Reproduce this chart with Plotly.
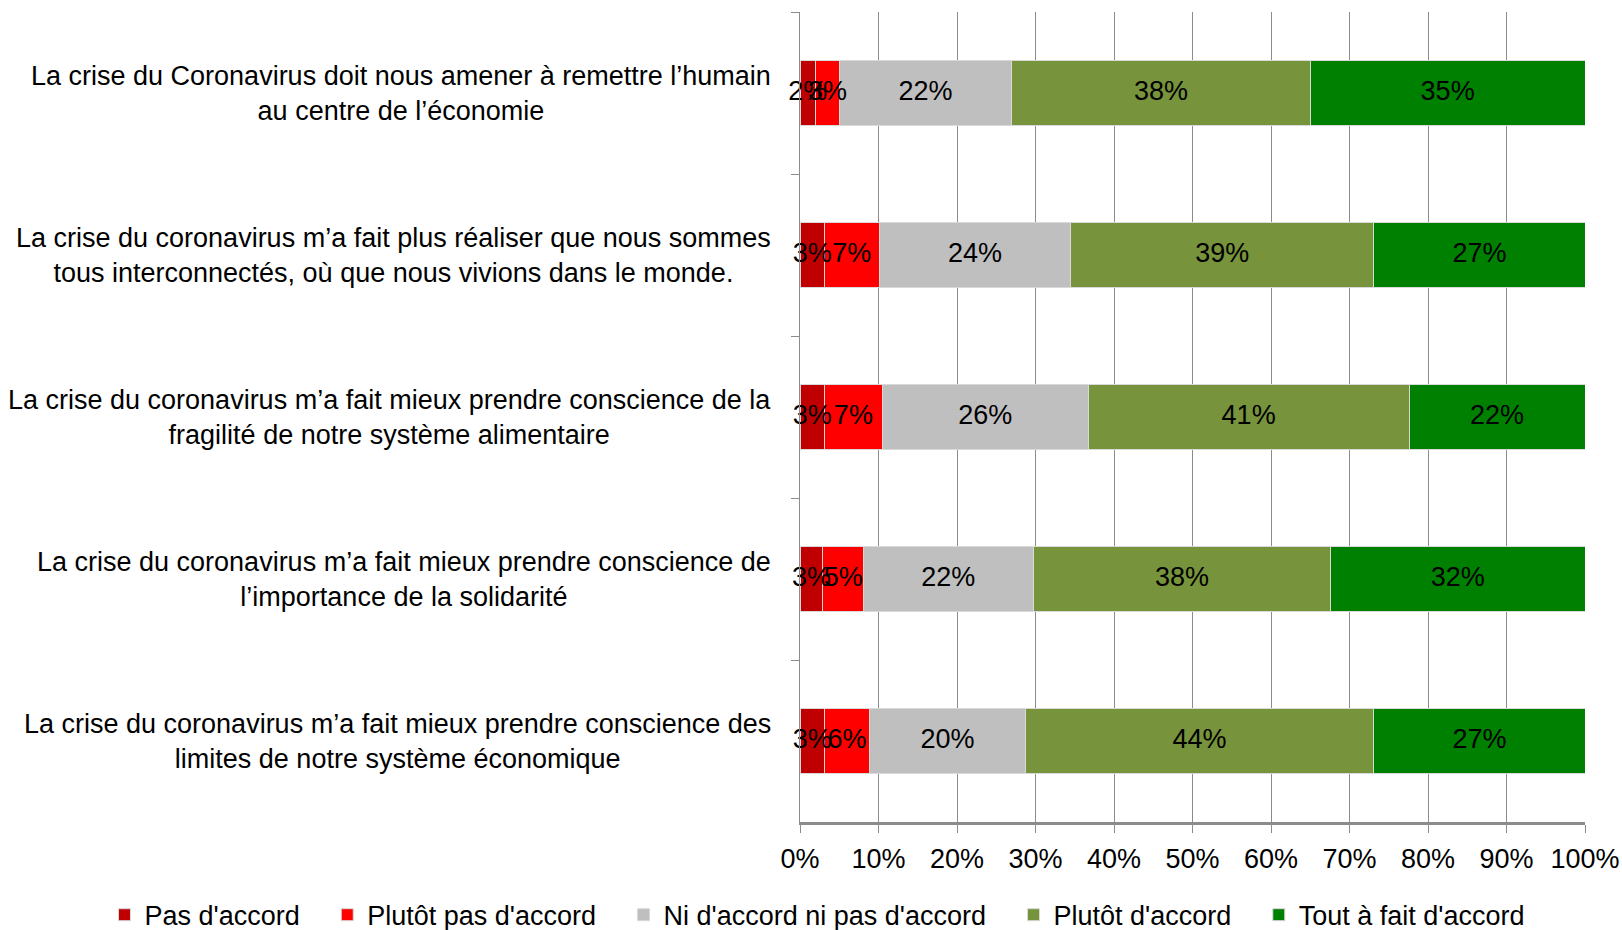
import plotly.graph_objects as go

categories = [
    "La crise du Coronavirus doit nous amener à remettre l’humain<br>au centre de l’économie",
    "La crise du coronavirus m’a fait plus réaliser que nous sommes<br>tous interconnectés, où que nous vivions dans le monde.",
    "La crise du coronavirus m’a fait mieux prendre conscience de la<br>fragilité de notre système alimentaire",
    "La crise du coronavirus m’a fait mieux prendre conscience de<br>l’importance de la solidarité",
    "La crise du coronavirus m’a fait mieux prendre conscience des<br>limites de notre système économique",
]

series_names = ["Pas d'accord", "Plutôt pas d'accord", "Ni d'accord ni pas d'accord",
                "Plutôt d'accord", "Tout à fait d'accord"]
pas_accord = [2.0, 3.1, 3.1, 2.9, 3.1]
plutot_pas = [3.0, 7.0, 7.4, 5.2, 5.8]
ni_ni = [22.0, 24.4, 26.2, 21.6, 19.8]
plutot_accord = [38.0, 38.6, 40.9, 37.9, 44.4]
tout_a_fait = [35.0, 26.9, 22.4, 32.4, 26.9]
colors = ["#C00000", "#FF0000", "#BFBFBF", "#77933C", "#008000"]
x_ticks = [0, 10, 20, 30, 40, 50, 60, 70, 80, 90, 100]
x_tick_labels = ["0%", "10%", "20%", "30%", "40%", "50%", "60%", "70%", "80%", "90%", "100%"]

FONT = "Liberation Sans, Arial, sans-serif"
FS = 27
PAD = "\u00a0\u00a0\u00a0"
all_series = [pas_accord, plutot_pas, ni_ni, plutot_accord, tout_a_fait]

fig = go.Figure()
for i, (name, vals, col) in enumerate(zip(series_names, all_series, colors)):
    fig.add_trace(go.Bar(
        y=categories, x=vals, name=name + (PAD if i < len(series_names) - 1 else ""),
        orientation="h",
        marker=dict(color=col, line=dict(color="#d9d9d9", width=1)),
        hoverinfo="skip",
    ))

# value labels drawn on top of all bars
base = [0.0] * len(categories)
for vals in all_series:
    mids = [b + v / 2 for b, v in zip(base, vals)]
    fig.add_trace(go.Scatter(
        x=mids, y=categories, mode="text",
        text=[f"{int(v + 0.5)}%" for v in vals],
        textposition="middle center", cliponaxis=False, showlegend=False,
        textfont=dict(color="black", size=FS, family=FONT), hoverinfo="skip",
    ))
    base = [b + v for b, v in zip(base, vals)]

for c in categories:
    fig.add_annotation(x=0, xref="paper", xanchor="right", xshift=-27,
                       y=c, yref="y", yanchor="middle", text=c, showarrow=False,
                       align="center", font=dict(size=FS, family=FONT, color="black"))

fig.update_layout(
    barmode="stack", bargap=0.6, width=1622, height=930,
    margin=dict(l=800, r=37, t=12, b=108, autoexpand=False),
    plot_bgcolor="white", paper_bgcolor="white",
    font=dict(family=FONT, size=FS, color="black"),
    legend=dict(orientation="h", x=-0.886, xanchor="left", y=-0.115, yanchor="middle",
                font=dict(size=FS, family=FONT), traceorder="normal",
                itemwidth=30, tracegroupgap=0),
    xaxis=dict(range=[0, 100], tickvals=x_ticks, ticktext=x_tick_labels,
               showgrid=True, gridcolor="#8c8c8c", gridwidth=1.3,
               ticks="outside", ticklen=8, tickcolor="#8c8c8c", tickwidth=1.3,
               showline=True, linecolor="#8c8c8c", linewidth=2.5,
               ticklabelstandoff=3, zeroline=False, ticklabeloverflow="allow",
               tickfont=dict(size=FS, family=FONT)),
    yaxis=dict(categoryorder="array", categoryarray=categories, autorange="reversed",
               showticklabels=False, ticks="outside", tickson="boundaries",
               ticklen=8, tickcolor="#8c8c8c", tickwidth=1.3,
               showline=True, linecolor="#8c8c8c", linewidth=1.3, showgrid=False),
)
fig.write_html("out.html", config={"displayModeBar": False},
               post_script="document.body.style.margin='0';document.body.style.overflow='hidden';")
